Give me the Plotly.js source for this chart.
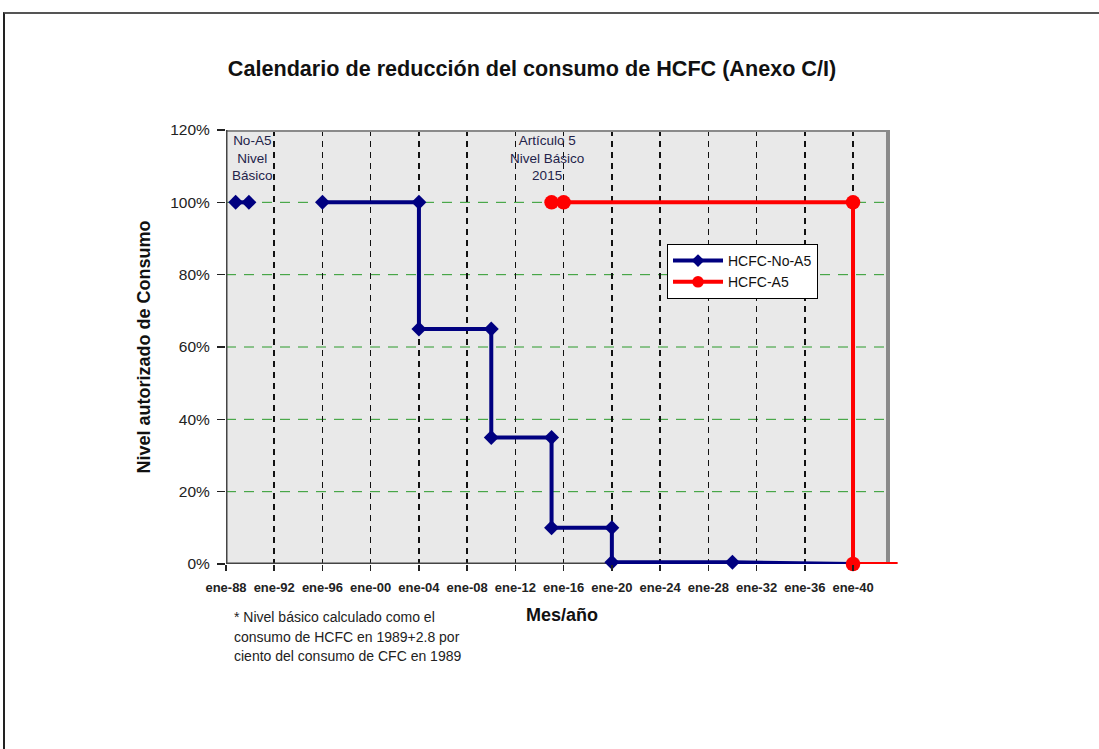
<!DOCTYPE html>
<html>
<head>
<meta charset="utf-8">
<script src="https://cdn.plot.ly/plotly-3.0.1.min.js"></script>
<style>
  html, body { margin: 0; padding: 0; background: #ffffff; }
  #wrap { position: relative; width: 1099px; height: 749px; overflow: hidden; }
  #chart { width: 1099px; height: 749px; }
  #pageframe { position: absolute; left: 3px; top: 12px; width: 1100px; height: 740px;
    border-top: 2px solid #555; border-left: 2px solid #222; pointer-events: none; box-sizing: border-box; }
</style>
</head>
<body>
<div id="wrap">
  <div id="chart"></div>
  <div id="pageframe"></div>
</div>
<script>
// ---- data ----
const noA5Years   = [1988.8, 1989.9, null, 1996, 2004, 2004, 2010, 2010, 2015, 2015, 2020, 2020, 2030, 2040];
const noA5Levels  = [100, 100, null, 100, 100, 65, 65, 35, 35, 10, 10, 0.5, 0.5, 0];
const noA5Markers = [11.5, 11.5, 0, 11.5, 11.5, 11.5, 11.5, 11.5, 11.5, 11.5, 11.5, 11.5, 11.5, 0];
const a5Years     = [2015, 2016, 2040, 2040, 2043.7];
const a5Levels    = [100, 100, 100, 0, 0];
const a5Markers   = [14.5, 14.5, 14.5, 14.5, 0];
const xTickVals   = [1988, 1992, 1996, 2000, 2004, 2008, 2012, 2016, 2020, 2024, 2028, 2032, 2036, 2040];
const xTickText   = ["ene-88","ene-92","ene-96","ene-00","ene-04","ene-08","ene-12","ene-16","ene-20","ene-24","ene-28","ene-32","ene-36","ene-40"];
const yTickVals   = [0, 20, 40, 60, 80, 100, 120];
const yTickText   = ["0%", "20%", "40%", "60%", "80%", "100%", "120%"];
const yGridVals   = [20, 40, 60, 80, 100];
const footLines   = ["* Nivel básico calculado como el", "consumo de HCFC en 1989+2.8 por", "ciento del consumo de CFC en 1989"];

// ---- axis geometry ----
const xStart = 1988, xEnd = 2043.73, frameEnd = 2042.9, yMax = 120;
const FONT = "Arial, 'Liberation Sans', sans-serif";

const traces = [
  {
    x: noA5Years, y: noA5Levels, name: "HCFC-No-A5",
    type: "scatter", mode: "lines+markers", connectgaps: false,
    line: { color: "#000080", width: 4 },
    marker: { symbol: "diamond", size: noA5Markers, color: "#000080", opacity: 1, line: { width: 0 } },
    cliponaxis: false
  },
  {
    x: a5Years, y: a5Levels, name: "HCFC-A5",
    type: "scatter", mode: "lines+markers",
    line: { color: "#ff0000", width: 4 },
    marker: { symbol: "circle", size: a5Markers, color: "#ff0000", opacity: 1, line: { width: 0 } },
    cliponaxis: false
  }
];

const shapes = [];
// plot-area background (granite-like light grey)
shapes.push({ type: "rect", xref: "x", yref: "y", x0: xStart, x1: frameEnd, y0: 0, y1: yMax,
  fillcolor: "#e9e9e9", line: { width: 0 }, layer: "below" });
// horizontal dashed green gridlines
yGridVals.forEach(v => shapes.push({ type: "line", xref: "x", yref: "y", x0: xStart, x1: frameEnd, y0: v, y1: v,
  line: { color: "#2a9a2a", width: 1, dash: "10px,8px" }, layer: "below" }));
// frame: top & right grey, left & bottom dark
shapes.push({ type: "line", xref: "x", yref: "y", x0: xStart, x1: frameEnd, y0: yMax, y1: yMax,
  line: { color: "#8a8a8a", width: 4 }, layer: "between" });
shapes.push({ type: "line", xref: "x", yref: "y", x0: frameEnd, x1: frameEnd, y0: 0, y1: yMax,
  line: { color: "#8a8a8a", width: 4 }, layer: "between" });
shapes.push({ type: "line", xref: "x", yref: "y", x0: xStart, x1: xStart, y0: 0, y1: yMax,
  line: { color: "#444", width: 3 }, layer: "between" });
shapes.push({ type: "line", xref: "x", yref: "y", x0: xStart, x1: frameEnd, y0: 0, y1: 0,
  line: { color: "#444", width: 3 }, layer: "between" });

const annoFont = { family: FONT, size: 13.5, color: "#23234a" };
const annotations = [
  { xref: "x", yref: "y", x: 1990.2, y: 119.8, yanchor: "top", xanchor: "center",
    text: "No-A5<br>Nivel<br>Básico", showarrow: false, font: annoFont, align: "center" },
  { xref: "x", yref: "y", x: 2014.6, y: 119.8, yanchor: "top", xanchor: "center",
    text: "Artículo 5<br>Nivel Básico<br>2015", showarrow: false, font: annoFont, align: "center" }
];
footLines.forEach((t, i) => annotations.push({
  xref: "paper", yref: "paper", x: (232 - 226) / 672, y: (564 - (617 + i * 19.5)) / 434,
  xanchor: "left", yanchor: "middle", text: t, showarrow: false, align: "left",
  font: { family: FONT, size: 14, color: "#222" }
}));

const layout = {
  width: 1099, height: 749,
  margin: { l: 226, r: 201, t: 130, b: 185 },
  paper_bgcolor: "#ffffff", plot_bgcolor: "#ffffff",
  showlegend: true,
  title: { text: "<b>Calendario de reducción del consumo de HCFC (Anexo C/I)</b>",
    x: 532 / 1099, xanchor: "center", xref: "container", y: 1 - 68 / 749, yanchor: "middle",
    font: { family: FONT, size: 21.6, color: "#111" } },
  xaxis: {
    range: [xStart, xEnd], tickmode: "array", tickvals: xTickVals, ticktext: xTickText,
    showgrid: true, gridcolor: "#111", gridwidth: 1.5, griddash: "6px,5px",
    zeroline: false, showline: false,
    ticks: "outside", ticklen: 6, tickcolor: "#222", tickwidth: 1.5,
    ticklabelstandoff: 5,
    tickfont: { family: FONT, size: 13, color: "#222", weight: "bold" },
    title: { text: "<b>Mes/año</b>", font: { family: FONT, size: 18, color: "#111" }, standoff: 14 }
  },
  yaxis: {
    range: [0, yMax], tickmode: "array", tickvals: yTickVals, ticktext: yTickText,
    showgrid: false, zeroline: false, showline: false,
    ticks: "outside", ticklen: 8, tickcolor: "#222", tickwidth: 1.5,
    ticklabelstandoff: 4,
    tickfont: { family: FONT, size: 15.5, color: "#222" },
    title: { text: "<b>Nivel autorizado de Consumo</b>", font: { family: FONT, size: 18, color: "#111" }, standoff: 14 }
  },
  legend: {
    x: (667 - 226) / 672, y: (564 - 244) / 434, xanchor: "left", yanchor: "top",
    bgcolor: "#ffffff", bordercolor: "#000", borderwidth: 1,
    font: { family: FONT, size: 14, color: "#111" }, itemwidth: 50, tracegroupgap: 0
  },
  shapes: shapes,
  annotations: annotations
};

Plotly.newPlot("chart", traces, layout, { displayModeBar: false, staticPlot: true });
</script>
</body>
</html>
